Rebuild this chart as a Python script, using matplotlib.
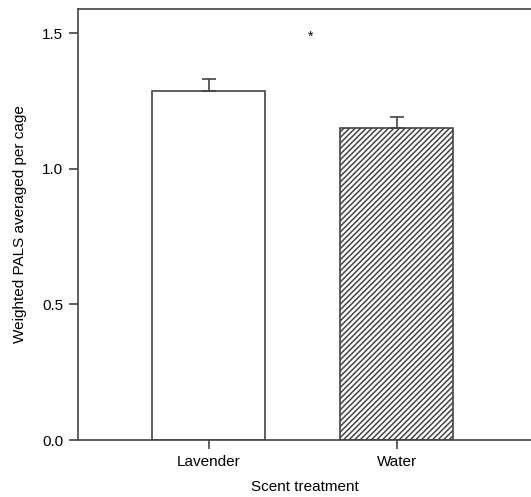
import matplotlib
matplotlib.use("Agg")
import matplotlib.pyplot as plt

plt.rcParams['font.family'] = ['Liberation Sans', 'DejaVu Sans']
plt.rcParams['hatch.linewidth'] = 1.1

categories = ["Lavender", "Water"]
means = [1.288, 1.151]
sem_upper = [0.044, 0.040]
hatches = ["", "//////"]
star_x, star_y = 0.54, 1.487

ink = "#444444"
plt.rcParams['hatch.color'] = ink

fig = plt.figure(figsize=(5.31, 4.97), dpi=100)
ax = fig.add_axes([78/531, 57/497, 453/531, 431/497])

pos = list(range(len(categories)))
for x, m, e, h in zip(pos, means, sem_upper, hatches):
    ax.bar(x, m, width=0.60, color="white", edgecolor=ink, linewidth=1.2,
           hatch=h, zorder=2)
    ax.errorbar(x, m, yerr=[[0], [e]], fmt="none", ecolor=ink,
                elinewidth=1.2, capsize=5, capthick=1.2, zorder=3)

ax.text(star_x, star_y, "*", ha="center", va="center", fontsize=10, color="black")

ax.set_xlim(-0.694, 1.715)
ax.set_ylim(0, 1.59)
ax.set_xticks(pos)
ax.set_xticklabels(categories)
ax.set_yticks([0.0, 0.5, 1.0, 1.5])
ax.set_yticklabels(["0.0", "0.5", "1.0", "1.5"])
ax.tick_params(axis="both", direction="out", length=6.5, width=1.2, color=ink,
               labelsize=11, pad=4)

for side in ["left", "top", "bottom"]:
    ax.spines[side].set_color(ink)
    ax.spines[side].set_linewidth(1.2)
ax.spines["right"].set_visible(False)

ax.set_xlabel("Scent treatment", fontsize=11, labelpad=8)
ax.set_ylabel("Weighted PALS averaged per cage", fontsize=11, labelpad=11)

fig.savefig("out.png", dpi=100)
